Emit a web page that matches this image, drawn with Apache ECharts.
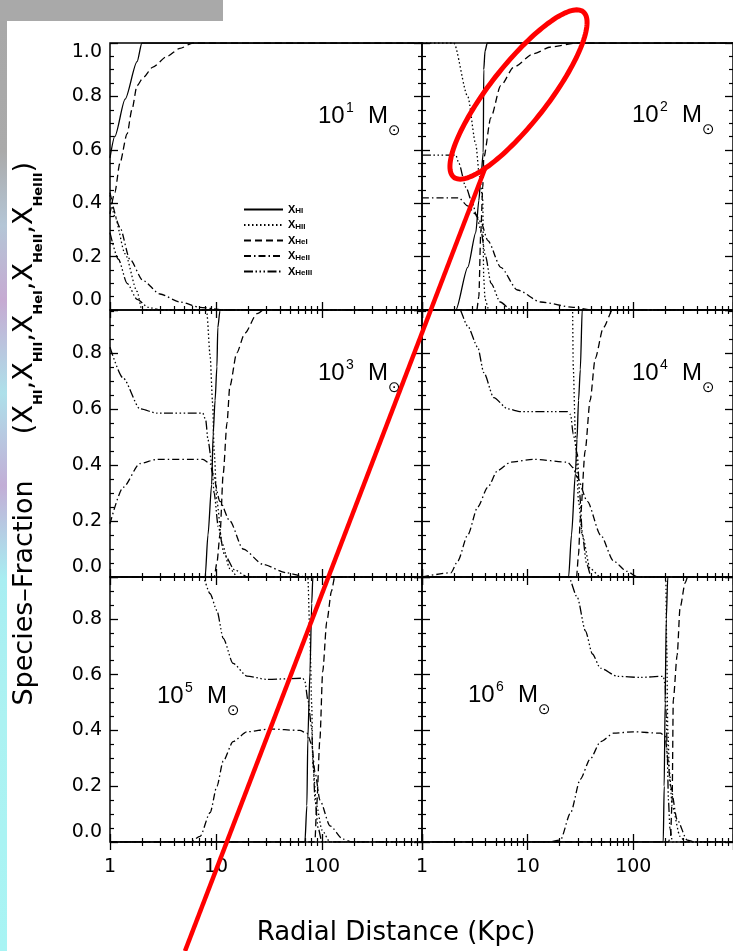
<!DOCTYPE html>
<html>
<head>
<meta charset="utf-8">
<script src="https://cdn.jsdelivr.net/npm/echarts@6/dist/echarts.min.js"></script>
<style>
  html, body { margin: 0; padding: 0; background: #fff; }
  #chart { width: 733px; height: 951px; }
</style>
</head>
<body>
<div id="chart"></div>
<script>
// Species fractions versus radial distance (kpc) for six halo masses.
const SPECIES = ['HI', 'HII', 'HeI', 'HeII', 'HeIII'];
const MASS_EXPONENTS = ['1', '2', '3', '4', '5', '6'];
const X_TICK_LABELS = ['1', '10', '100'];
const X_MAJOR_TICKS = [1, 10, 100];
const R_MIN = 1;
const R_MAX = 878;
const Y_MAX = [1.0, 1.0, 0.953, 0.953, 0.95, 0.95];

// 10^1 Msun
const m1_HI    = [[1,0.57],[1.11,0.65],[1.39,0.79],[1.8,0.93],[2.0,1.0],[878,1.0]];
const m1_HII   = [[1,0.43],[1.11,0.35],[1.39,0.21],[1.8,0.07],[2.0,0.0],[878,0]];
const m1_HeI   = [[1,0.36],[1.11,0.44],[1.24,0.55],[1.45,0.66],[1.61,0.75],[1.8,0.84],[2.05,0.87],[2.54,0.91],[3.45,0.95],[4.57,0.98],[6.06,1.0],[878,1.0]];
const m1_HeII  = [[1,0.44],[1.24,0.31],[1.54,0.19],[2.05,0.11],[2.96,0.06],[4.57,0.03],[7.07,0.01],[12,0],[878,0]];
const m1_HeIII = [[1,0.29],[1.2,0.19],[1.45,0.1],[1.8,0.04],[2.3,0.01],[3,0],[878,0]];

// 10^2 Msun
const m2_HI    = [[1,0],[2.09,0],[2.71,0.16],[3.23,0.29],[3.45,0.41],[3.6,0.49],[3.8,0.59],[3.84,0.9],[3.95,0.97],[4.15,1.0],[878,1.0]];
const m2_HII   = [[1,1],[2.0,1],[2.71,0.8],[3.23,0.62],[3.5,0.5],[3.75,0.42],[3.84,0.12],[3.95,0.04],[4.3,0],[878,0]];
const m2_HeI   = [[1,0],[3.3,0],[3.45,0.05],[3.6,0.29],[3.76,0.46],[3.84,0.57],[4.48,0.72],[5.56,0.84],[7.4,0.91],[11.4,0.96],[16.5,0.985],[29,1.0],[878,1.0]];
const m2_HeII  = [[1,0.42],[2.23,0.42],[2.7,0.39],[3.2,0.36],[3.6,0.33],[4.2,0.26],[5.56,0.16],[8.0,0.075],[13.3,0.03],[27,0.01],[40,0],[878,0]];
const m2_HeIII = [[1,0.58],[2.09,0.58],[2.23,0.55],[2.6,0.46],[3.0,0.4],[3.3,0.35],[3.6,0.3],[4.0,0.2],[4.5,0.1],[5.5,0.03],[7,0],[878,0]];

// 10^3 Msun
const m3_HI    = [[1,0],[7.9,0],[8.4,0.15],[9.1,0.33],[9.4,0.51],[9.8,0.63],[10.2,0.75],[10.4,0.89],[10.9,0.95],[11.5,1.0],[878,1.0]];
const m3_HII   = [[1,1],[7.9,1],[8.2,0.94],[8.8,0.79],[9.3,0.62],[9.6,0.45],[10.2,0.27],[11.4,0.12],[13.5,0.03],[16,0],[878,0]];
const m3_HeI   = [[1,0],[9.6,0],[10.2,0.05],[10.9,0.15],[11.7,0.37],[12.7,0.55],[13.5,0.68],[15.7,0.8],[18.7,0.87],[24.4,0.94],[32,0.97],[45,1.0],[878,1.0]];
const m3_HeII  = [[1,0.19],[1.33,0.32],[1.92,0.405],[2.77,0.42],[7.5,0.42],[8.8,0.405],[9.3,0.37],[10.9,0.27],[13.5,0.2],[18,0.1],[27.8,0.045],[46,0.015],[72,0],[878,0]];
const m3_HeIII = [[1,0.82],[1.33,0.71],[1.92,0.6],[2.77,0.585],[7.5,0.585],[8.0,0.56],[8.4,0.49],[9.1,0.41],[9.6,0.3],[10.5,0.18],[12,0.08],[15,0.025],[20,0],[878,0]];

// 10^4 Msun
const m4_HI    = [[1,0],[24.4,0],[26,0.15],[28.3,0.37],[29.3,0.49],[30.3,0.63],[31.5,0.74],[32.9,0.96],[35,1.0],[878,1.0]];
const m4_HII   = [[1,1],[25.5,1],[26.6,0.955],[27,0.75],[28.3,0.51],[30.3,0.27],[32.9,0.15],[39,0.03],[49,0],[878,0]];
const m4_HeI   = [[1,0],[29,0],[30.3,0.08],[31.5,0.21],[35,0.45],[39,0.63],[43.6,0.78],[52,0.89],[64,0.955],[80,0.99],[100,1.0],[878,1.0]];
const m4_HeII  = [[1,0],[1.88,0.015],[2.18,0.057],[2.71,0.15],[3.37,0.25],[4.19,0.32],[5.2,0.38],[6.9,0.41],[11.4,0.42],[23.8,0.41],[27,0.39],[29.5,0.355],[36.7,0.27],[49,0.15],[65,0.057],[87,0.02],[110,0],[878,0]];
const m4_HeIII = [[1,1],[2.0,1.0],[2.23,0.96],[2.71,0.895],[3.37,0.82],[3.84,0.73],[4.78,0.64],[6.47,0.6],[8.6,0.59],[23.8,0.59],[25.5,0.58],[27,0.51],[29.5,0.44],[31,0.3],[33,0.15],[36,0.05],[40,0],[878,0]];

// 10^5 Msun
const m5_HI    = [[1,0],[69,0],[72,0.13],[73.5,0.37],[77,0.61],[80,0.855],[82,0.95],[85,1.0],[878,1.0]];
const m5_HII   = [[1,1],[72,1],[73.5,0.95],[77,0.73],[80,0.49],[82,0.275],[89,0.13],[99.8,0.043],[119,0],[878,0]];
const m5_HeI   = [[1,0],[84,0],[86,0.01],[89,0.13],[95.6,0.37],[101.5,0.61],[111,0.79],[123,0.9],[132,0.95],[160,0.99],[200,1.0],[878,1.0]];
const m5_HeII  = [[1,0],[5.7,0],[7.07,0.02],[8.8,0.105],[10.2,0.2],[11.7,0.29],[14.5,0.36],[19.6,0.395],[32,0.405],[61.8,0.4],[72,0.39],[80,0.35],[86,0.25],[95.6,0.15],[119,0.058],[158,0.01],[190,0],[878,0]];
const m5_HeIII = [[1,1],[6.5,1],[7.5,0.95],[8.8,0.89],[10.2,0.83],[11.7,0.73],[14.5,0.64],[19.6,0.595],[30,0.583],[66,0.587],[69,0.575],[73.5,0.51],[80,0.41],[82,0.3],[86,0.15],[92,0.05],[100,0],[878,0]];

// 10^6 Msun
const m6_HI    = [[1,0],[192,0],[196,0.2],[200,0.5],[205,0.8],[212,0.95],[225,1.0],[878,1.0]];
const m6_HII   = [[1,1],[196,1],[203,0.95],[207,0.7],[212,0.4],[220,0.25],[233,0.13],[277,0.02],[310,0],[878,0]];
const m6_HeI   = [[1,0],[215,0],[225,0.02],[233,0.15],[239,0.51],[260,0.67],[277,0.84],[310,0.93],[330,0.955],[400,0.99],[500,1.0],[878,1.0]];
const m6_HeII  = [[1,0],[15.4,0],[20.4,0.007],[25.5,0.105],[31.5,0.225],[39,0.297],[49,0.36],[65,0.39],[100,0.395],[180,0.39],[200,0.38],[212,0.3],[225,0.2],[260,0.08],[323,0.007],[390,0],[878,0]];
const m6_HeIII = [[1,1],[22,1],[24.4,0.95],[29.5,0.877],[35.2,0.757],[41,0.674],[48.8,0.623],[70.5,0.594],[116,0.59],[192,0.594],[200,0.565],[205,0.45],[210,0.3],[215,0.15],[222,0.05],[235,0],[878,0]];

const PANEL_DATA = [
  [m1_HI, m1_HII, m1_HeI, m1_HeII, m1_HeIII],
  [m2_HI, m2_HII, m2_HeI, m2_HeII, m2_HeIII],
  [m3_HI, m3_HII, m3_HeI, m3_HeII, m3_HeIII],
  [m4_HI, m4_HII, m4_HeI, m4_HeII, m4_HeIII],
  [m5_HI, m5_HII, m5_HeI, m5_HeII, m5_HeIII],
  [m6_HI, m6_HII, m6_HeI, m6_HeII, m6_HeIII]
];

// ---- layout & styling ----
const FONT = "'DejaVu Sans'";
const LABEL_FONT = "'Liberation Sans'";
const GRIDS = [
  { left: 110, top: 43,  width: 312, height: 267 },
  { left: 422, top: 43,  width: 312, height: 267 },
  { left: 110, top: 310, width: 312, height: 267 },
  { left: 422, top: 310, width: 312, height: 267 },
  { left: 110, top: 577, width: 312, height: 265 },
  { left: 422, top: 577, width: 312, height: 265 }
];
const DASH = {
  HI: 'solid',
  HII: [1.5, 2.5],
  HeI: [7, 4],
  HeII: [7, 3, 1.5, 3],
  HeIII: [9, 2.5, 1.5, 2.5, 1.5, 2.5, 1.5, 2.5]
};
const MASS_LABEL_POS = [[318, 116], [632, 115], [318, 373], [632, 373], [157, 696], [468, 695]];

const TICK = { show: true, inside: true, length: 8, lineStyle: { color: '#000', width: 1.3 } };
const MINOR = (n) => ({ show: true, splitNumber: n, length: 4, lineStyle: { color: '#000', width: 1.2 } });

// each panel gets a bottom + top x axis and a left + right y axis, all ticked inward
const xAxis = [];
const yAxis = [];
GRIDS.forEach((g, i) => {
  ['bottom', 'top'].forEach((pos, j) => {
    xAxis.push({
      type: 'log', logBase: 10, gridIndex: i, position: pos, min: R_MIN, max: R_MAX,
      axisLine: { show: false }, axisTick: TICK, minorTick: MINOR(9), splitLine: { show: false },
      axisLabel: {
        show: j === 0 && i >= 4, margin: 16, color: '#000', fontFamily: FONT, fontSize: 19,
        showMinLabel: true, showMaxLabel: false,
        formatter: v => { const k = X_MAJOR_TICKS.indexOf(v); return k >= 0 ? X_TICK_LABELS[k] : ''; }
      }
    });
  });
  ['left', 'right'].forEach((pos, j) => {
    yAxis.push({
      type: 'value', gridIndex: i, position: pos, min: 0, max: Y_MAX[i], interval: 0.2,
      axisLine: { show: false }, axisTick: TICK, minorTick: MINOR(4), splitLine: { show: false },
      axisLabel: {
        show: j === 0 && i % 2 === 0, margin: 8, color: '#000', fontFamily: FONT, fontSize: 19,
        showMinLabel: true, showMaxLabel: Y_MAX[i] >= 1,
        verticalAlignMinLabel: 'bottom', verticalAlignMaxLabel: 'top',
        formatter: v => v.toFixed(1)
      }
    });
  });
});

const series = [];
PANEL_DATA.forEach((panel, i) => {
  panel.forEach((pts, k) => {
    const name = SPECIES[k];
    series.push({
      type: 'line', name, xAxisIndex: 2 * i, yAxisIndex: 2 * i, data: pts,
      symbol: 'none', showSymbol: false, smooth: 0.25, smoothMonotone: 'x', clip: true,
      lineStyle: { color: '#000', width: 1.3, type: DASH[name] },
      itemStyle: { color: '#000' },
      animation: false, silent: true
    });
  });
});

const option = {
  backgroundColor: '#ffffff',
  animation: false,
  grid: GRIDS.map(g => Object.assign({ show: true, borderColor: '#000', borderWidth: 1.5, backgroundColor: 'transparent', containLabel: false }, g)),
  xAxis, yAxis, series,
  legend: {
    data: SPECIES, selectedMode: false, orient: 'vertical', left: 238, top: 199,
    itemWidth: 39, itemHeight: 12, itemGap: 4.5,
    itemStyle: { opacity: 0 },
    formatter: n => `{x|X}{s|${n}}`,
    textStyle: {
      color: '#000',
      rich: {
        x: { fontSize: 11, fontWeight: 'bold' },
        s: { fontSize: 8, fontWeight: 'bold', verticalAlign: 'bottom' }
      }
    }
  }
};

const chart = echarts.init(document.getElementById('chart'), null, { renderer: 'canvas' });
chart.setOption(option);

// ---- titles, mass labels, page decorations and the red annotation ----
function massLabel(pos, exp) {
  const [x, y] = pos;
  const base = { fill: '#000', verticalAlign: 'middle', align: 'left' };
  return { type: 'group', children: [
    { type: 'text', x: x, y: y, style: Object.assign({ text: '10', font: `24px ${LABEL_FONT}` }, base) },
    { type: 'text', x: x + 28, y: y - 8, style: Object.assign({ text: exp, font: `14px ${LABEL_FONT}` }, base) },
    { type: 'text', x: x + 50, y: y, style: Object.assign({ text: 'M', font: `24px ${LABEL_FONT}` }, base) },
    { type: 'text', x: x + 70, y: y + 15, style: Object.assign({ text: '\u2299', font: `15px ${FONT}` }, base) }
  ] };
}

const ELLIPSE = { cx: 518.5, cy: 94.5, a: 105, b: 29, tilt: 52 };
function ellipsePoints(e) {
  const pts = [];
  const th = e.tilt * Math.PI / 180;
  for (let i = 0; i < 144; i++) {
    const t = i / 144 * 2 * Math.PI;
    const ux = e.a * Math.cos(t), uy = e.b * Math.sin(t);
    pts.push([e.cx + ux * Math.cos(th) - uy * Math.sin(th), e.cy - (ux * Math.sin(th) + uy * Math.cos(th))]);
  }
  return pts;
}

const subRich = {
  t: { fontSize: 27, fontFamily: FONT, lineHeight: 40, fill: '#000' },
  s: { fontSize: 13, fontFamily: FONT, fontWeight: 'bold', lineHeight: 20, verticalAlign: 'bottom', fill: '#000' }
};
const speciesList = '{t|(}' + SPECIES.map(s => `{t|X}{s|${s}}`).join('{t|,}') + '{t|)}';

const decorations = [
  { type: 'rect', shape: { x: 0, y: 0, width: 223, height: 21 }, style: { fill: '#a9a9a9' }, silent: true },
  { type: 'rect', shape: { x: 0, y: 21, width: 7, height: 930 }, silent: true,
    style: { fill: new echarts.graphic.LinearGradient(0, 0, 0, 1, [
      { offset: 0, color: '#a8a8a8' }, { offset: 0.14, color: '#aaaaaa' },
      { offset: 0.22, color: '#b4c6d6' }, { offset: 0.3, color: '#c6aad2' },
      { offset: 0.4, color: '#aee0ea' }, { offset: 0.5, color: '#c2aed6' },
      { offset: 0.6, color: '#a8eef2' }, { offset: 0.75, color: '#acf2f2' },
      { offset: 1, color: '#a8f4f4' }
    ]) } },
  { type: 'text', x: 396, y: 933, silent: true,
    style: { text: 'Radial Distance (Kpc)', font: `26px ${FONT}`, fill: '#000', align: 'center', verticalAlign: 'middle' } },
  { type: 'text', x: 25, y: 593, rotation: Math.PI / 2, silent: true,
    style: { text: 'Species\u2013Fraction', font: `27px ${FONT}`, fill: '#000', align: 'center', verticalAlign: 'middle' } },
  { type: 'text', x: 25, y: 298, rotation: Math.PI / 2, silent: true,
    style: { text: speciesList, rich: subRich, fill: '#000', align: 'center', verticalAlign: 'middle' } }
];
MASS_EXPONENTS.forEach((e, i) => decorations.push(massLabel(MASS_LABEL_POS[i], e)));
decorations.push({ type: 'polygon', z: 100, silent: true, shape: { points: ellipsePoints(ELLIPSE) },
  style: { fill: 'none', stroke: '#ff0000', lineWidth: 5 } });
decorations.push({ type: 'line', z: 100, silent: true, shape: { x1: 486, y1: 166, x2: 185, y2: 951 },
  style: { stroke: '#ff0000', lineWidth: 4.5 } });

chart.setOption({ graphic: decorations });
</script>
</body>
</html>
